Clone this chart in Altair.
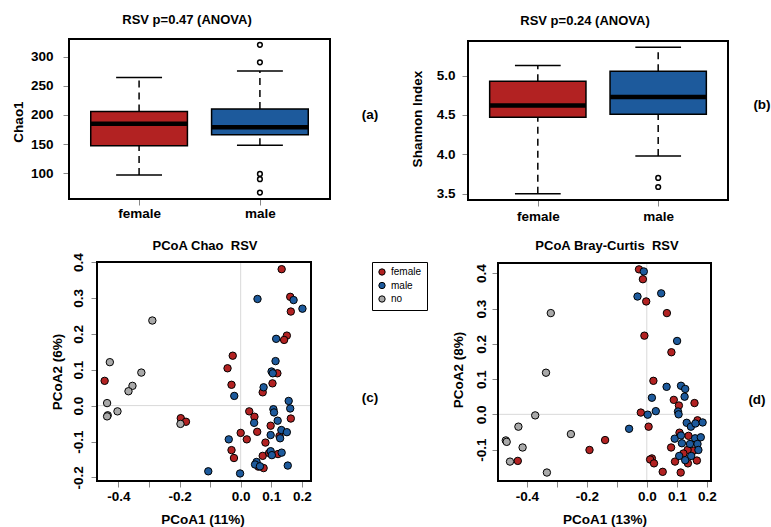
import json
import altair as alt
import pandas as pd

FONT = "Liberation Sans"
RED = "#B22222"
BLUE = "#1D5A9C"
GRAY = "#A9A9A9"

groups = ["female", "male", "no"]
box_groups = ["female", "male"]

# ---- (a) Chao1 boxplot stats ----
chao_lo = [97, 148]
chao_q1 = [147, 166]
chao_med = [185, 179]
chao_q3 = [206, 210]
chao_hi = [264, 275]
chao_out_group = ["male", "male", "male", "male", "male"]
chao_out = [320, 290, 99, 90, 67]
chao_yticks = [100, 150, 200, 250, 300]

# ---- (b) Shannon boxplot stats ----
shan_lo = [3.50, 3.98]
shan_q1 = [4.47, 4.51]
shan_med = [4.62, 4.73]
shan_q3 = [4.93, 5.055]
shan_hi = [5.13, 5.36]
shan_out_group = ["male", "male"]
shan_out = [3.70, 3.585]
shan_yticks = [3.5, 4.0, 4.5, 5.0]

# ---- (c) PCoA Chao ----
c_female_x = [-0.445, -0.196, -0.179, 0.134, 0.162, 0.164, 0.151, 0.142, -0.026, -0.043,
              -0.030, 0.120, 0.104, 0.072, 0.028, 0.045, 0.164, 0.054, 0.000, 0.020,
              0.098, 0.081, 0.127, -0.030, -0.022, 0.072, 0.093, 0.122, 0.058, 0.075]
c_female_y = [0.069, -0.035, -0.045, 0.380, 0.303, 0.262, 0.195, 0.183, 0.139, 0.104,
              0.058, 0.090, 0.062, 0.037, -0.016, -0.031, -0.036, -0.073, -0.076, -0.094,
              -0.056, -0.103, -0.085, -0.124, -0.146, -0.140, -0.132, -0.135, -0.170, -0.174]
c_male_x = [0.055, 0.173, 0.202, 0.116, 0.114, 0.101, 0.105, 0.075, -0.021, 0.157,
            0.162, 0.107, 0.109, 0.121, 0.044, 0.133, 0.151, 0.098, 0.129, -0.039,
            0.098, 0.102, 0.134, 0.154, 0.052, 0.047, 0.063, -0.106, -0.002]
c_male_y = [0.297, 0.294, 0.270, 0.186, 0.124, 0.095, 0.090, 0.051, 0.027, 0.013,
            -0.008, -0.010, -0.019, -0.042, -0.048, -0.068, -0.074, -0.082, -0.091, -0.094,
            -0.127, -0.138, -0.131, -0.167, -0.157, -0.164, -0.169, -0.183, -0.189]
c_no_x = [-0.289, -0.428, -0.325, -0.354, -0.367, -0.437, -0.435, -0.437, -0.403, -0.197]
c_no_y = [0.237, 0.121, 0.092, 0.055, 0.040, 0.007, -0.027, -0.030, -0.016, -0.051]

# ---- (d) PCoA Bray-Curtis ----
d_female_x = [-0.430, -0.191, -0.139, -0.026, -0.013, -0.002, 0.067, -0.008, 0.082, 0.022,
              0.090, 0.107, 0.159, -0.020, 0.006, 0.169, 0.109, 0.139, 0.081, 0.156,
              0.136, 0.122, 0.017, 0.011, 0.024, 0.094, 0.137, 0.167, 0.053, 0.113]
d_female_y = [-0.132, -0.101, -0.073, 0.411, 0.383, 0.320, 0.287, 0.223, 0.176, 0.095,
              0.041, 0.025, 0.032, 0.005, -0.035, -0.017, -0.052, -0.061, -0.094, -0.103,
              -0.101, -0.111, -0.125, -0.128, -0.139, -0.134, -0.139, -0.131, -0.163, -0.165]
d_male_x = [-0.010, -0.031, 0.048, 0.101, 0.066, 0.114, 0.128, 0.017, 0.126, 0.030,
            0.003, 0.104, 0.106, -0.059, 0.133, 0.147, 0.186, 0.162, 0.093, 0.114,
            0.117, 0.144, 0.161, 0.180, 0.169, 0.172, 0.108, 0.128, 0.148]
d_male_y = [0.405, 0.334, 0.343, 0.208, 0.078, 0.081, 0.072, 0.047, 0.050, 0.009,
            -0.001, 0.008, 0.000, -0.041, -0.024, -0.035, -0.023, -0.026, -0.069, -0.060,
            -0.082, -0.084, -0.068, -0.065, -0.084, -0.101, -0.118, -0.130, -0.118]
d_no_x = [-0.320, -0.336, -0.372, -0.428, -0.470, -0.467, -0.414, -0.253, -0.456, -0.333]
d_no_y = [0.287, 0.118, -0.003, -0.035, -0.074, -0.078, -0.094, -0.056, -0.134, -0.165]

pc_xticks = [-0.4, -0.3, -0.2, -0.1, 0.0, 0.1, 0.2]
pc_xhidden = [-0.3, -0.1]
c_yticks = [-0.2, -0.1, 0.0, 0.1, 0.2, 0.3, 0.4]
d_yticks = [-0.1, 0.0, 0.1, 0.2, 0.3, 0.4]

CANVAS_W, CANVAS_H = 771, 527

LEGEND = alt.Legend(orient="none", legendX=372, legendY=262, title=None,
                    strokeColor="black", fillColor="white", padding=5,
                    symbolType="circle", symbolSize=40, symbolStrokeColor="black",
                    symbolStrokeWidth=1, labelFont=FONT, labelFontSize=10,
                    labelColor="black", rowPadding=1.5, labelOffset=4)
FILL = alt.Fill("group:N", scale=alt.Scale(domain=groups, range=[RED, BLUE, GRAY]),
                legend=LEGEND)

MINUS_FIX = "replace(format(datum.value, '.1f'), '\u2212', '-')"

AX_COMMON = dict(grid=False, domain=False, title=None, labelFont=FONT, labelFontSize=13.5,
                 labelFontWeight="bold", labelColor="black", tickColor="#888888",
                 tickSize=6, labelFlush=False, labelOverlap=False)


def make_encoders(xdom, xrange, ydom, yrange, ax_x, ax_y):
    sx = alt.Scale(domain=xdom, range=xrange, nice=False, zero=False)
    sy = alt.Scale(domain=ydom, range=yrange, nice=False, zero=False)

    def X(f):
        return alt.X(f, type="quantitative", scale=sx, axis=ax_x)

    def Y(f):
        return alt.Y(f, type="quantitative", scale=sy, axis=ax_y)
    return X, Y


def frame_df(xdom, ydom):
    return pd.DataFrame({"x0": [xdom[0]], "x1": [xdom[1]], "y0": [ydom[0]],
                         "y1": [ydom[1]], "zero": [0.0]})


def box_panel(lo, q1, med, q3, hi, out_g, out_v, xrange, ydom, yrange, yticks, yfmt,
              x_offset, y_offset, x_pad, y_pad):
    xdom = [0.42, 2.58]
    pos_expr = f"indexof({json.dumps(box_groups)}, datum.group) + 1"
    ax_x = alt.Axis(orient="bottom", offset=x_offset, values=[1, 2],
                    labelExpr=f"{json.dumps(box_groups)}[datum.value - 1]",
                    labelPadding=x_pad, **AX_COMMON)
    ax_y = alt.Axis(orient="left", offset=y_offset, values=yticks, format=yfmt,
                    labelPadding=y_pad, **AX_COMMON)
    X, Y = make_encoders(xdom, xrange, ydom, yrange, ax_x, ax_y)
    df = pd.DataFrame({"group": box_groups, "lo": lo, "q1": q1, "med": med,
                       "q3": q3, "hi": hi})
    base = alt.Chart(df).transform_calculate(pos=pos_expr).transform_calculate(
        bl="datum.pos - 0.4", br="datum.pos + 0.4",
        cl="datum.pos - 0.19", cr="datum.pos + 0.19")
    whisk = dict(color="black", strokeWidth=1.5, strokeDash=[7, 5])
    up = base.mark_rule(**whisk).encode(x=X("pos"), y=Y("q3"), y2="hi")
    dn = base.mark_rule(**whisk).encode(x=X("pos"), y=Y("lo"), y2="q1")
    cap_hi = base.mark_rule(color="black", strokeWidth=1.5).encode(x=X("cl"), x2="cr", y=Y("hi"))
    cap_lo = base.mark_rule(color="black", strokeWidth=1.5).encode(x=X("cl"), x2="cr", y=Y("lo"))
    box = base.mark_rect(stroke="black", strokeWidth=1.5).encode(
        x=X("bl"), x2="br", y=Y("q1"), y2="q3", fill=FILL)
    median = base.mark_rule(color="black", strokeWidth=4.5).encode(x=X("bl"), x2="br", y=Y("med"))
    odf = pd.DataFrame({"group": out_g, "v": out_v})
    outl = alt.Chart(odf).transform_calculate(pos=pos_expr).mark_point(
        shape="circle", filled=False, color="black", strokeWidth=1.5, size=22, opacity=1
    ).encode(x=X("pos"), y=Y("v"))
    frame = alt.Chart(frame_df(xdom, ydom)).mark_rect(
        fillOpacity=0, stroke="black", strokeWidth=2).encode(
        x=X("x0"), x2="x1", y=Y("y0"), y2="y1")
    return alt.layer(up, dn, cap_hi, cap_lo, box, median, outl, frame)


def pcoa_panel(fx, fy, mx, my, nx, ny, xdom, xrange, ydom, yrange, yticks,
               x_offset, y_offset, x_pad, y_pad):
    hidden = " || ".join(f"abs(datum.value - ({h})) < 0.001" for h in pc_xhidden)
    ax_x = alt.Axis(orient="bottom", offset=x_offset, values=pc_xticks,
                    labelExpr=f"({hidden}) ? '' : {MINUS_FIX}",
                    labelPadding=x_pad, **AX_COMMON)
    ax_y = alt.Axis(orient="left", offset=y_offset, values=yticks,
                    labelExpr=MINUS_FIX, labelAngle=270, labelAlign="center",
                    labelBaseline="bottom", labelPadding=y_pad, **AX_COMMON)
    X, Y = make_encoders(xdom, xrange, ydom, yrange, ax_x, ax_y)
    fd = frame_df(xdom, ydom)
    hline = alt.Chart(fd).mark_rule(color="#d9d9d9", strokeWidth=1).encode(
        x=X("x0"), x2="x1", y=Y("zero"))
    vline = alt.Chart(fd).mark_rule(color="#d9d9d9", strokeWidth=1).encode(
        x=X("zero"), y=Y("y0"), y2="y1")
    pts = pd.concat([
        pd.DataFrame({"x": fx, "y": fy, "group": "female"}),
        pd.DataFrame({"x": mx, "y": my, "group": "male"}),
        pd.DataFrame({"x": nx, "y": ny, "group": "no"}),
    ], ignore_index=True)
    points = alt.Chart(pts).mark_circle(size=55, stroke="black", strokeWidth=1,
                                         opacity=1).encode(x=X("x"), y=Y("y"), fill=FILL)
    frame = alt.Chart(fd).mark_rect(fillOpacity=0, stroke="black", strokeWidth=2).encode(
        x=X("x0"), x2="x1", y=Y("y0"), y2="y1")
    return alt.layer(hline, vline, points, frame)


def label(txt, x, y, size=13, angle=0, weight="bold"):
    return alt.Chart(pd.DataFrame({"t": [txt]})).mark_text(
        font=FONT, fontSize=size, fontWeight=weight, angle=angle, align="center",
        baseline="middle", color="black").encode(
        text="t:N", x=alt.value(x), y=alt.value(y))


panel_a = box_panel(chao_lo, chao_q1, chao_med, chao_q3, chao_hi, chao_out_group, chao_out,
                    xrange=[69, 330], ydom=[56, 330], yrange=[199, 39], yticks=chao_yticks,
                    yfmt="d", x_offset=199 - CANVAS_H, y_offset=-69, x_pad=1, y_pad=10)
panel_b = box_panel(shan_lo, shan_q1, shan_med, shan_q3, shan_hi, shan_out_group, shan_out,
                    xrange=[468, 728], ydom=[3.42, 5.44], yrange=[200, 41], yticks=shan_yticks,
                    yfmt=".1f", x_offset=200 - CANVAS_H, y_offset=-468, x_pad=3, y_pad=7)
panel_c = pcoa_panel(c_female_x, c_female_y, c_male_x, c_male_y, c_no_x, c_no_y,
                     xdom=[-0.47, 0.23], xrange=[97, 311], ydom=[-0.21, 0.40],
                     yrange=[481, 262], yticks=c_yticks, x_offset=481 - CANVAS_H,
                     y_offset=-97, x_pad=2, y_pad=6)
panel_d = pcoa_panel(d_female_x, d_female_y, d_male_x, d_male_y, d_no_x, d_no_y,
                     xdom=[-0.496, 0.214], xrange=[498, 711], ydom=[-0.189, 0.429],
                     yrange=[481, 263], yticks=d_yticks, x_offset=481 - CANVAS_H,
                     y_offset=-498, x_pad=2, y_pad=4)

texts = [
    label("RSV p=0.47 (ANOVA)", 187, 20),
    label("RSV p=0.24 (ANOVA)", 585, 21),
    label("Chao1", 19, 122, size=13.5, angle=270),
    label("Shannon Index", 418, 119, size=13.5, angle=270),
    label("(a)", 370, 115, size=13.5),
    label("(b)", 762, 105, size=13.5),
    label("PCoA Chao\u00a0 RSV", 205, 246),
    label("PCoA Bray-Curtis\u00a0 RSV", 607, 246),
    label("PCoA2 (6%)", 58, 372, size=13.5, angle=270),
    label("PCoA1 (11%)", 203, 520, size=13.5),
    label("PCoA2 (8%)", 459, 370, size=13.5, angle=270),
    label("PCoA1 (13%)", 605, 520, size=13.5),
    label("(c)", 370, 398, size=13.5),
    label("(d)", 757, 400, size=13.5),
]

chart = alt.layer(panel_a, panel_b, panel_c, panel_d, *texts).resolve_scale(
    x="independent", y="independent").resolve_axis(
    x="independent", y="independent").properties(
    width=CANVAS_W, height=CANVAS_H, padding=0,
    autosize=alt.AutoSizeParams(type="none"), background="white"
).configure_view(strokeWidth=0)

chart.save("out.html", embed_options={"renderer": "svg", "actions": False})
